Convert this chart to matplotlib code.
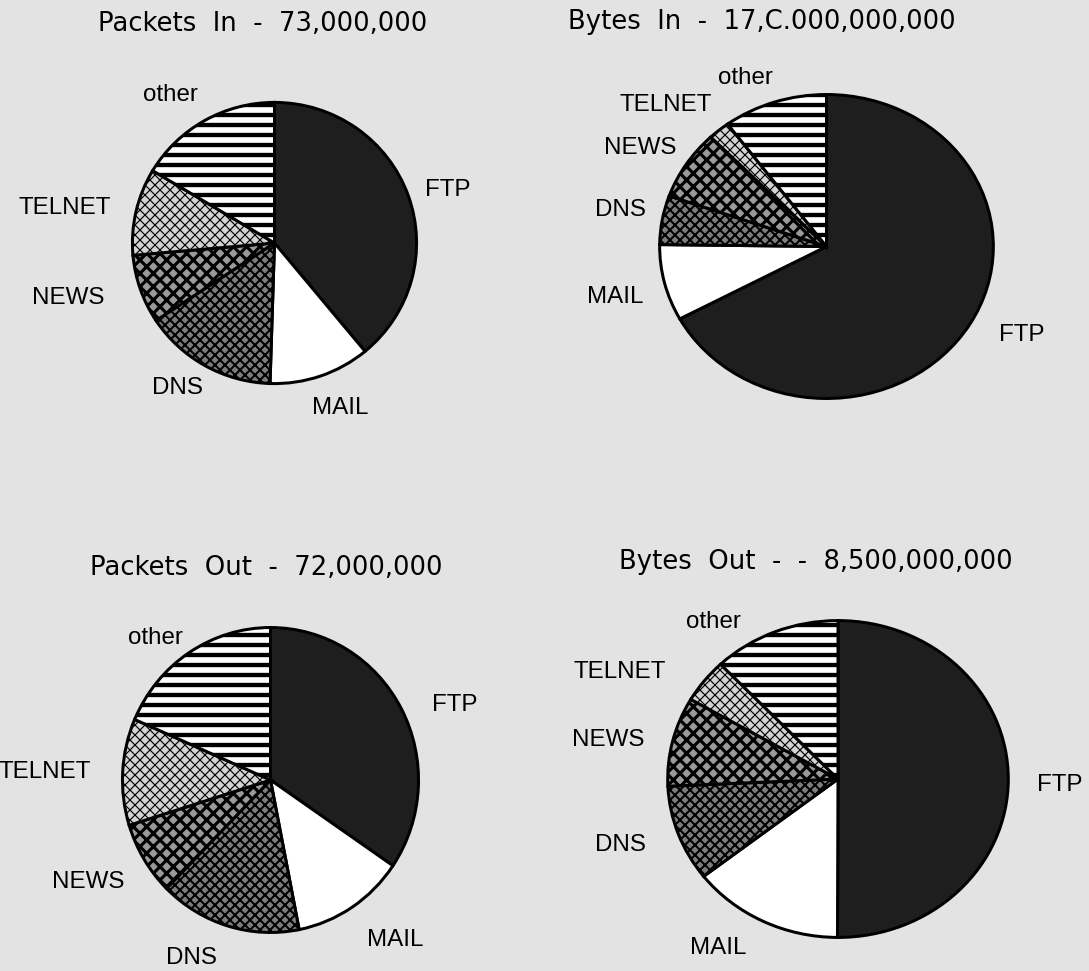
import matplotlib
matplotlib.use("Agg")
import matplotlib.pyplot as plt
from matplotlib import font_manager

W, H, DPI = 1089, 971, 120

# slice order: clockwise from 12 o'clock
SERVICES = ["FTP", "MAIL", "DNS", "NEWS", "TELNET", "other"]

packets_in = [39.0, 11.5, 15.2, 7.9, 10.0, 16.4]
bytes_in = [67.1, 8.1, 5.2, 7.4, 2.1, 10.1]
packets_out = [34.5, 12.4, 15.5, 7.8, 11.3, 18.5]
bytes_out = [50.0, 14.4, 9.8, 9.1, 4.5, 12.1]

titles = [
    "Packets  In  -  73,000,000",
    "Bytes  In  -  17,C.000,000,000",
    "Packets  Out  -  72,000,000",
    "Bytes  Out  -  -  8,500,000,000",
]

# pixel boxes (left, top, width, height) of each pie
PIE_BOX = [
    (131, 101, 287, 284),
    (658, 93, 337, 307),
    (121, 626, 299, 308),
    (666, 619, 344, 320),
]
TITLE_POS = [(263, 24), (762, 22), (266, 568), (816, 562)]
LABEL_POS = [
    {"FTP": (448, 190), "MAIL": (340, 408), "DNS": (178, 388), "NEWS": (68, 298),
     "TELNET": (65, 208), "other": (170, 95)},
    {"FTP": (1022, 335), "MAIL": (615, 297), "DNS": (620, 210), "NEWS": (640, 148),
     "TELNET": (666, 105), "other": (745, 78)},
    {"FTP": (455, 705), "MAIL": (395, 940), "DNS": (192, 958), "NEWS": (88, 882),
     "TELNET": (45, 772), "other": (155, 638)},
    {"FTP": (1060, 785), "MAIL": (718, 948), "DNS": (620, 845), "NEWS": (608, 740),
     "TELNET": (620, 672), "other": (713, 622)},
]

STYLE = {
    "FTP": dict(fc="#1e1e1e", hatch=None, hlw=1.0),
    "MAIL": dict(fc="white", hatch=None, hlw=1.0),
    "DNS": dict(fc="#7c7c7c", hatch="xxxx", hlw=1.2),
    "NEWS": dict(fc="#9a9a9a", hatch="xxx", hlw=1.9),
    "TELNET": dict(fc="#d4d4d4", hatch="xxxx", hlw=0.7),
    "other": dict(fc="white", hatch="--", hlw=2.6),
}


def pick_label_font():
    try:
        font_manager.findfont("Liberation Sans Narrow", fallback_to_default=False)
        return "Liberation Sans Narrow", 16.5
    except Exception:
        return "Liberation Sans", 14.5


label_family, label_size = pick_label_font()

fig = plt.figure(figsize=(W / DPI, H / DPI), dpi=DPI)
fig.patch.set_facecolor("#e3e3e3")

all_values = [packets_in, bytes_in, packets_out, bytes_out]
for k, values in enumerate(all_values):
    l, t, w, h = PIE_BOX[k]
    ax = fig.add_axes([l / W, 1 - (t + h) / H, w / W, h / H])
    wedges, _ = ax.pie(values, startangle=90, counterclock=False, radius=1.0,
                       wedgeprops=dict(edgecolor="black", linewidth=1.8))
    for wedge, name in zip(wedges, SERVICES):
        st = STYLE[name]
        wedge.set_facecolor(st["fc"])
        if st["hatch"]:
            if hasattr(wedge, "set_hatch_linewidth"):
                wedge.set_hatch_linewidth(st["hlw"])
            wedge.set_hatch(st["hatch"])
    ax.set_aspect("auto")
    ax.set_xlim(-1.01, 1.01)
    ax.set_ylim(-1.01, 1.01)
    ax.axis("off")

    tx, ty = TITLE_POS[k]
    fig.text(tx / W, 1 - ty / H, titles[k], ha="center", va="center",
             fontsize=15.5, family="DejaVu Sans", color="black")
    for name in SERVICES:
        lx, ly = LABEL_POS[k][name]
        fig.text(lx / W, 1 - ly / H, name, ha="center", va="center",
                 fontsize=label_size, family=label_family, color="black")

fig.savefig("out.png", dpi=DPI, facecolor=fig.get_facecolor())
